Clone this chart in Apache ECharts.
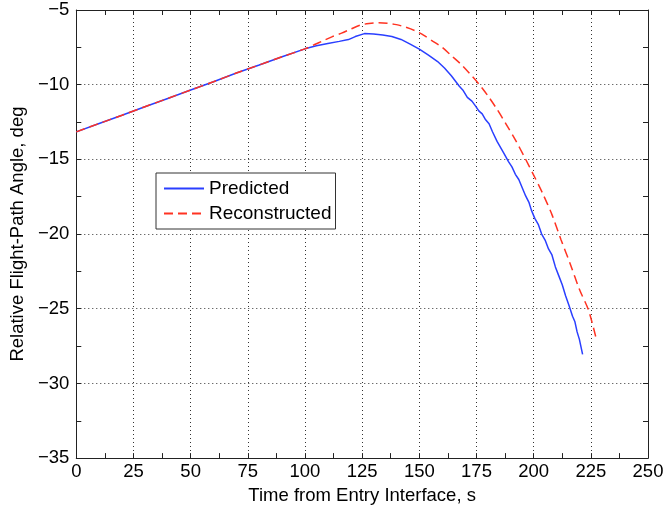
<!DOCTYPE html>
<html>
<head>
<meta charset="utf-8">
<script src="https://cdn.jsdelivr.net/npm/echarts@6/dist/echarts.min.js"></script>
<style>
  html, body { margin: 0; padding: 0; background: #fff; }
  #chart { width: 671px; height: 510px; }
</style>
</head>
<body>
<div id="chart"></div>
<script>
// time (s), relative flight-path angle (deg)
const predicted = [
  [0, -13.16], [10, -12.6], [20, -12.05], [30, -11.48], [40, -10.92], [50, -10.36],
  [60, -9.8], [70, -9.22], [80, -8.68], [90, -8.13], [100, -7.6], [105, -7.4],
  [110, -7.24], [115, -7.1], [119, -6.98], [122, -6.78], [126, -6.58], [130, -6.6],
  [134, -6.68], [138, -6.78], [142, -6.97], [146, -7.28], [150, -7.62], [154, -8.02],
  [158, -8.45], [161, -8.88], [164, -9.4], [166, -9.8], [167.5, -10.1], [169, -10.35],
  [171, -10.85], [173, -11.1], [174.7, -11.45], [176, -11.75], [177.5, -11.95],
  [179, -12.35], [180.5, -12.62], [182, -13.15], [184, -13.8], [185.5, -14.2],
  [187, -14.6], [189, -15.15], [190.5, -15.5], [192, -16.0], [193.5, -16.35],
  [195, -16.9], [196.5, -17.45], [198, -17.9], [199, -18.4], [200.5, -18.95],
  [202, -19.35], [203.5, -20.0], [205, -20.4], [206.5, -21.0], [208, -21.4],
  [209.5, -22.2], [211, -22.8], [212.5, -23.4], [214, -24.15], [215.5, -24.8],
  [217, -25.5], [218, -25.85], [219, -26.55], [220, -27.05], [221.4, -28.05]
];
const reconstructed = [
  [0, -13.16], [10, -12.6], [20, -12.05], [30, -11.48], [40, -10.92], [50, -10.36],
  [60, -9.8], [70, -9.22], [80, -8.68], [90, -8.13], [100, -7.6], [104, -7.33],
  [108, -7.05], [112, -6.78], [116, -6.55], [120, -6.28], [124, -6.02], [128, -5.9],
  [132, -5.85], [136, -5.88], [140, -5.98], [144, -6.15], [148, -6.38], [152, -6.7],
  [156, -7.1], [160, -7.5], [164, -8.05], [168, -8.6], [172, -9.25], [176, -9.95],
  [180, -10.75], [184, -11.65], [188, -12.65], [192, -13.7], [196, -14.85],
  [200, -16.05], [204, -17.3], [208, -18.7], [212, -20.4], [216, -22.0],
  [220, -23.7], [224, -25.1], [227.6, -27.16]
];
const xRange = [0, 250, 25];
const yRange = [-35, -5, 5];
const seriesNames = ['Predicted', 'Reconstructed'];

const font = "'Liberation Sans', Arial, sans-serif";
const minus = v => String(v).replace('-', '\u2212');

const chart = echarts.init(document.getElementById('chart'));

function axisBase(min, max, interval, showLabel) {
  return {
    type: 'value',
    min: min,
    max: max,
    interval: interval,
    axisLine: { show: true, onZero: false, lineStyle: { color: '#222', width: 1 } },
    axisTick: { show: true, inside: true, length: 5, lineStyle: { color: '#222' } },
    minorTick: { show: true, splitNumber: 2, length: 5, lineStyle: { color: '#222' } },
    splitLine: { show: false },
    axisLabel: { show: showLabel, color: '#000', fontFamily: font, fontSize: 18.5, formatter: minus }
  };
}

const xMain = axisBase(xRange[0], xRange[1], xRange[2], true);
xMain.position = 'bottom';
xMain.axisLabel.margin = 4;
xMain.splitLine = { show: true, lineStyle: { color: '#333', type: [1, 3], width: 1 } };
xMain.name = 'Time from Entry Interface, s';
xMain.nameLocation = 'middle';
xMain.nameGap = 25;
xMain.nameTextStyle = { color: '#000', fontFamily: font, fontSize: 18.5 };

const xTop = axisBase(xRange[0], xRange[1], xRange[2], false);
xTop.position = 'top';

const yMain = axisBase(yRange[0], yRange[1], yRange[2], true);
yMain.position = 'left';
yMain.axisLabel.margin = 7;
yMain.splitLine = { show: true, lineStyle: { color: '#333', type: [1, 3], width: 1 } };
yMain.name = 'Relative Flight-Path Angle, deg';
yMain.nameLocation = 'middle';
yMain.nameGap = 40;
yMain.nameTextStyle = { color: '#000', fontFamily: font, fontSize: 18.5 };

const yRight = axisBase(yRange[0], yRange[1], yRange[2], false);
yRight.position = 'right';

chart.setOption({
  animation: false,
  backgroundColor: '#fff',
  grid: { left: 73, right: 23, top: 10, bottom: 50, containLabel: false },
  xAxis: [xMain, xTop],
  yAxis: [yMain, yRight],
  legend: {
    data: seriesNames,
    orient: 'vertical',
    left: 156,
    top: 173,
    padding: [6, 4, 6, 7],
    itemGap: 6,
    itemWidth: 40,
    itemHeight: 18,
    backgroundColor: '#fff',
    borderColor: '#333',
    borderWidth: 1,
    borderRadius: 0,
    itemStyle: { opacity: 0 },
    textStyle: { color: '#000', fontFamily: font, fontSize: 19 }
  },
  series: [
    {
      name: seriesNames[0],
      type: 'line',
      data: predicted,
      showSymbol: false,
      symbol: 'none',
      z: 3,
      lineStyle: { color: '#2a3fff', width: 1.5 },
      itemStyle: { color: '#2a3fff' }
    },
    {
      name: seriesNames[1],
      type: 'line',
      data: reconstructed,
      showSymbol: false,
      symbol: 'none',
      smooth: 0.3,
      z: 4,
      lineStyle: { color: '#ff3322', width: 1.5, type: [9, 5] },
      itemStyle: { color: '#ff3322' }
    }
  ]
});
</script>
</body>
</html>
